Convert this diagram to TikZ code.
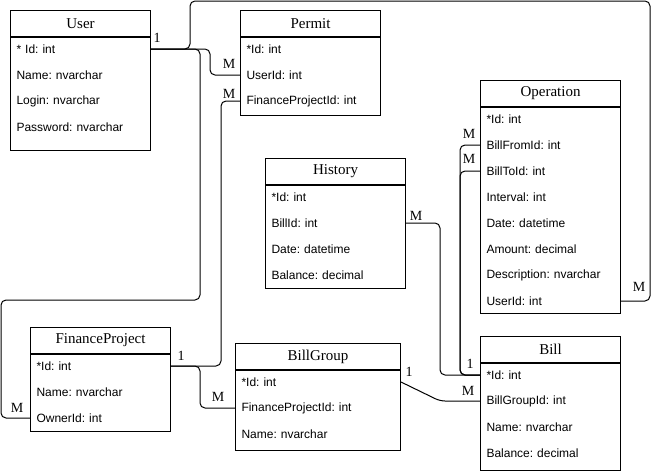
\documentclass[tikz,border=0pt]{standalone}
\usepackage{fontspec}
\setmainfont{Liberation Serif}
\setsansfont{Liberation Sans}
\usepackage{tikz}
\frenchspacing
\newcommand{\headfont}{\rmfamily\fontsize{15}{18}\selectfont}
\newcommand{\rowfont}{\sffamily\fontsize{12}{14}\selectfont}
\newcommand{\multfont}{\rmfamily\fontsize{14}{16}\selectfont}

\begin{document}
\begin{tikzpicture}[x=1pt,y=-1pt,line width=1pt,
  tablehead/.style={draw,anchor=north west,minimum width=#1,minimum height=26pt,inner sep=0pt,font=\headfont},
  tablerow/.style={anchor=west,text width=#1,align=left,inner xsep=6pt,inner ysep=0pt,font=\rowfont},
  link/.style={rounded corners=5pt},
  mult/.style={inner sep=0pt,font=\multfont}]
\useasboundingbox (0,0) rectangle (661,471);
% User
\node[tablehead=140pt] (user) at (10,10) {User};
\draw (user.south west) rectangle (150,150);
\node[tablerow=128pt] (user1) at (10,49) {* Id: int};
\node[tablerow=128pt] (user2) at (10,75) {Name: nvarchar};
\node[tablerow=128pt] (user3) at (10,101) {Login: nvarchar};
\node[tablerow=128pt] (user4) at (10,127) {Password: nvarchar};
% Permit
\node[tablehead=140pt] (permit) at (240,10) {Permit};
\draw (permit.south west) rectangle (380,115);
\node[tablerow=128pt] (permit1) at (240,49) {*Id: int};
\node[tablerow=128pt] (permit2) at (240,75) {UserId: int};
\node[tablerow=128pt] (permit3) at (240,101) {FinanceProjectId: int};
% Operation
\node[tablehead=140pt] (op) at (480,80) {Operation};
\draw (op.south west) rectangle (620,313);
\node[tablerow=128pt] (op1) at (480,119) {*Id: int};
\node[tablerow=128pt] (op2) at (480,145) {BillFromId: int};
\node[tablerow=128pt] (op3) at (480,171) {BillToId: int};
\node[tablerow=128pt] (op4) at (480,197) {Interval: int};
\node[tablerow=128pt] (op5) at (480,223) {Date: datetime};
\node[tablerow=128pt] (op6) at (480,249) {Amount: decimal};
\node[tablerow=128pt] (op7) at (480,275) {Description: nvarchar};
\node[tablerow=128pt] (op8) at (480,301) {UserId: int};
% History
\node[tablehead=140pt] (hist) at (265,158) {History};
\draw (hist.south west) rectangle (405,288);
\node[tablerow=128pt] (hist1) at (265,197) {*Id: int};
\node[tablerow=128pt] (hist2) at (265,223) {BillId: int};
\node[tablerow=128pt] (hist3) at (265,249) {Date: datetime};
\node[tablerow=128pt] (hist4) at (265,275) {Balance: decimal};
% FinanceProject
\node[tablehead=140pt] (fp) at (30,327) {FinanceProject};
\draw (fp.south west) rectangle (170,431);
\node[tablerow=128pt] (fp1) at (30,366) {*Id: int};
\node[tablerow=128pt] (fp2) at (30,392) {Name: nvarchar};
\node[tablerow=128pt] (fp3) at (30,418) {OwnerId: int};
% BillGroup
\node[tablehead=165pt] (bg) at (235,343) {BillGroup};
\draw (bg.south west) rectangle (400,450);
\node[tablerow=153pt] (bg1) at (235,382) {*Id: int};
\node[tablerow=153pt] (bg2) at (235,408) {FinanceProjectId: int};
\node[tablerow=153pt] (bg3) at (235,434) {Name: nvarchar};
% Bill
\node[tablehead=140pt] (bill) at (480,336) {Bill};
\draw (bill.south west) rectangle (620,470);
\node[tablerow=128pt] (bill1) at (480,375) {*Id: int};
\node[tablerow=128pt] (bill2) at (480,401) {BillGroupId: int};
\node[tablerow=128pt] (bill3) at (480,427) {Name: nvarchar};
\node[tablerow=128pt] (bill4) at (480,453) {Balance: decimal};
% bends
\coordinate (ua) at (190,1);
\coordinate (ub) at (650,1);
\coordinate (uc) at (200,300);
\coordinate (ud) at (1,300);
\coordinate (ue) at (210,60);
\coordinate (pa) at (221,366);
\coordinate (fa) at (200,390);
\coordinate (ga) at (440,401);
\coordinate (ha) at (440,300);
\coordinate (oa) at (460,300);
% links
\draw[link] (user1.east) -| (ue) |- (permit2.west);
\draw[link] (user1.east) -| (ua) -- (ub) |- (op8.east);
\draw[link] (user1.east) -| (uc) -- (ud) |- (fp3.west);
\draw[link] (permit3.west) -| (pa) -- (fp1.east);
\draw[link] (fp1.east) -| (fa) |- (bg2.west);
\draw[link] (bg1.east) -- (ga) -- (bill2.west);
\draw[link] (hist2.east) -| (ha) |- (bill1.west);
\draw[link] (op2.west) -| (oa) |- (bill1.west);
\draw[link] (op3.west) -| (oa) |- (bill1.west);
% multiplicities
\node[mult] (m1) at (157,38) {1};
\node[mult] (m2) at (229,64) {M};
\node[mult] (m3) at (229,94) {M};
\node[mult] (m4) at (639,287) {M};
\node[mult] (m5) at (416,216) {M};
\node[mult] (m6) at (469,134) {M};
\node[mult] (m7) at (469,159) {M};
\node[mult] (m8) at (470,364) {1};
\node[mult] (m9) at (468,391) {M};
\node[mult] (m10) at (409,372) {1};
\node[mult] (m11) at (181,356) {1};
\node[mult] (m12) at (218,397) {M};
\node[mult] (m13) at (17,408) {M};
\end{tikzpicture}
\end{document}
